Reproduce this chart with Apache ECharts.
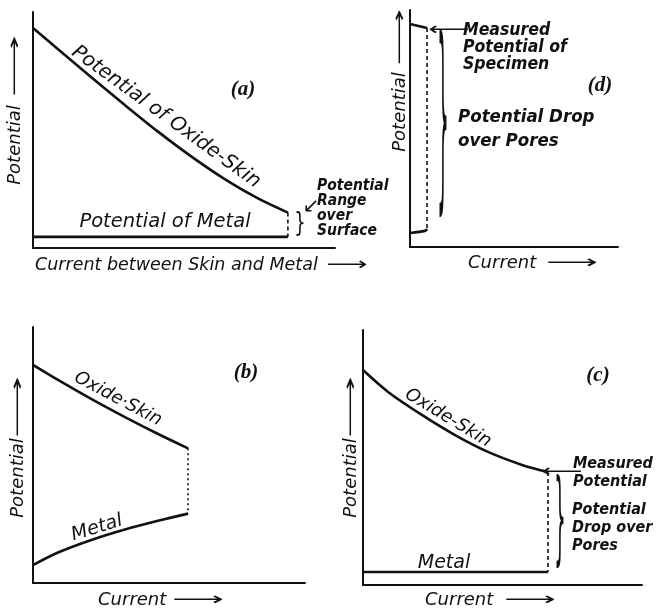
<!DOCTYPE html>
<html><head><meta charset="utf-8">
<script src="https://cdn.jsdelivr.net/npm/echarts@6.0.0/dist/echarts.min.js"></script>
<style>html,body{margin:0;padding:0;background:#fff}#c{width:657px;height:610px}</style>
</head><body><div id="c"></div>
<script>
// ---- data (each panel on a 0..100 schematic scale) ----
const aOxideX = [0, 8.3, 19.5, 30.5, 41.4, 52.6, 63.6, 74.5, 84.4];
const aOxideY = [93.2, 84.2, 72.1, 60.5, 49.3, 38.6, 29.1, 21.0, 15.0];
const aMetalX = [0, 84.4];
const aMetalY = [4.7, 4.7];
const bOxideX = [0, 9.2, 21.7, 33.8, 46.0, 57.0];
const bOxideY = [85.2, 79.3, 71.7, 64.8, 58.2, 52.6];
const bMetalX = [0, 9.2, 21.7, 33.8, 46.0, 57.0];
const bMetalY = [7.0, 11.9, 16.9, 20.9, 24.3, 27.1];
const cOxideX = [0, 9.0, 21.1, 33.0, 44.8, 57.0, 66.3];
const cOxideY = [84.3, 75.7, 66.7, 58.8, 52.2, 47.1, 44.3];
const cMetalX = [0, 66.3];
const cMetalY = [5.1, 5.1];
const dSpecimenX = [0, 8.2];
const dSpecimenY = [94.1, 92.4];
const dMetalX = [0, 7.2, 8.2];
const dMetalY = [5.9, 6.8, 7.6];
const panelLabels = ['(a)', '(b)', '(c)', '(d)'];
const yTitle = 'Potential';
const xTitles = ['Current between Skin and Metal', 'Current', 'Current', 'Current'];
const curveLabels = ['Potential of Oxide-Skin', 'Potential of Metal', 'Oxide·Skin', 'Metal', 'Oxide-Skin', 'Metal'];

// ---- layout ----
const INK = '#111';
const FONT = '"DejaVu Sans","Liberation Sans",sans-serif';
const CFONT = '"DejaVu Sans Condensed","DejaVu Sans","Liberation Sans",sans-serif';
const grids = [
  {left: 33, top: 12, width: 302, height: 236},
  {left: 33, top: 327, width: 272, height: 256},
  {left: 363, top: 330, width: 279, height: 255},
  {left: 410, top: 10, width: 208, height: 237}
];
function axis() {
  return {type: 'value', min: 0, max: 100,
    axisLine: {show: true, onZero: false, lineStyle: {color: INK, width: 2}},
    axisTick: {show: false}, axisLabel: {show: false}, splitLine: {show: false}};
}
function pairs(xs, ys) { return xs.map((x, i) => [x, ys[i]]); }
function curve(g, xs, ys, smooth) {
  return {type: 'line', xAxisIndex: g, yAxisIndex: g, data: pairs(xs, ys), symbol: 'none',
    smooth: smooth ? 0.3 : false, silent: true, lineStyle: {color: INK, width: 2.6}};
}
function connector(g, xs, ys, xs2, ys2, type) {
  const x = xs[xs.length - 1];
  return {type: 'line', xAxisIndex: g, yAxisIndex: g, symbol: 'none', silent: true,
    data: [[x, ys[ys.length - 1]], [xs2[xs2.length - 1], ys2[ys2.length - 1]]],
    lineStyle: {color: INK, width: 1.6, type: type || [4, 3]}};
}
function T(text, x, y, o) {
  o = o || {};
  return {type: 'text', x: x, y: y, rotation: (o.rot || 0) * Math.PI / 180,
    scaleX: o.sx || 1, scaleY: o.sy || 1, silent: true,
    style: {text: text, fill: INK, fontFamily: o.family || FONT, fontStyle: o.style || 'italic',
      fontWeight: o.weight || 'normal', fontSize: o.size || 18,
      align: o.align || 'center', verticalAlign: o.valign || 'middle', lineHeight: o.lh || 18}};
}
const PLBL = {family: '"Liberation Serif","DejaVu Serif",serif', weight: 'bold', size: 21};
const ANN = {family: CFONT, weight: 'bold', align: 'left'};
const ARROW = '\u27F6', LARROW = '\u27F5';
function A(o) { return Object.assign({}, ANN, o); }

const graphic = [
  // panel letters
  T(panelLabels[0], 243, 90, PLBL),
  T(panelLabels[1], 246, 373, PLBL),
  T(panelLabels[2], 598, 376, PLBL),
  T(panelLabels[3], 600, 86, PLBL),
  // y titles
  T(yTitle, 15, 145, {rot: 90}), T(ARROW, 15, 66, {rot: 90, sx: 2.4}),
  T(yTitle, 18, 478, {rot: 90}), T(ARROW, 18, 407, {rot: 90, sx: 2.4}),
  T(yTitle, 351, 478, {rot: 90}), T(ARROW, 351, 407, {rot: 90, sx: 2.4}),
  T(yTitle, 400, 112, {rot: 90}), T(ARROW, 400, 37, {rot: 90, sx: 2.2}),
  // x titles
  T(xTitles[0], 35, 265, {align: 'left', size: 17.5}), T(ARROW, 347, 265, {sx: 1.6}),
  T(xTitles[1], 98, 600, {align: 'left'}), T(ARROW, 198, 600, {sx: 2}),
  T(xTitles[2], 425, 600, {align: 'left'}), T(ARROW, 530, 600, {sx: 2}),
  T(xTitles[3], 468, 263, {align: 'left'}), T(ARROW, 572, 263, {sx: 2}),
  // curve labels
  T(curveLabels[0], 166, 117, {rot: -36, size: 20}),
  T(curveLabels[1], 165, 222, {size: 19.5}),
  T(curveLabels[2], 118, 399, {rot: -28, size: 18}),
  T(curveLabels[3], 97, 528, {rot: 17, size: 19}),
  T(curveLabels[4], 448, 418, {rot: -31, size: 18}),
  T(curveLabels[5], 444, 563, {size: 19}),
  // (a) annotation
  T('}', 300, 224, {style: 'normal', size: 18, sy: 1.5}),
  T('\u2199', 311, 207, {style: 'normal', size: 20}),
  T('Potential\nRange\nover\nSurface', 317, 208, A({size: 15.5, lh: 15})),
  // (d) annotation
  T(LARROW, 449, 30, {style: 'normal', sx: 1.6}),
  T('Measured\nPotential of\nSpecimen', 463, 47, A({size: 17.5, lh: 17})),
  T('}', 443, 131, {style: 'normal', size: 18, sy: 11.3}),
  T('Potential Drop\nover Pores', 458, 129, A({size: 18.5, lh: 24})),
  // (c) annotation
  T(LARROW, 562, 472, {style: 'normal', sx: 1.6}),
  T('Measured\nPotential', 573, 473, A({size: 16, lh: 18})),
  T('}', 560, 525, {style: 'normal', size: 18, sy: 5.6}),
  T('Potential\nDrop over\nPores', 572, 528, A({size: 16, lh: 18}))
];

const chart = echarts.init(document.getElementById('c'), null, {renderer: 'canvas'});
chart.setOption({
  animation: false,
  backgroundColor: '#fff',
  grid: grids,
  xAxis: grids.map((g, i) => Object.assign(axis(), {gridIndex: i})),
  yAxis: grids.map((g, i) => Object.assign(axis(), {gridIndex: i})),
  series: [
    curve(0, aOxideX, aOxideY, true), curve(0, aMetalX, aMetalY, false),
    connector(0, aOxideX, aOxideY, aMetalX, aMetalY),
    curve(1, bOxideX, bOxideY, true), curve(1, bMetalX, bMetalY, true),
    connector(1, bOxideX, bOxideY, bMetalX, bMetalY, [2, 3]),
    curve(2, cOxideX, cOxideY, true), curve(2, cMetalX, cMetalY, false),
    connector(2, cOxideX, cOxideY, cMetalX, cMetalY),
    curve(3, dSpecimenX, dSpecimenY, false), curve(3, dMetalX, dMetalY, true),
    connector(3, dSpecimenX, dSpecimenY, dMetalX, dMetalY)
  ],
  graphic: graphic
});
</script></body></html>
